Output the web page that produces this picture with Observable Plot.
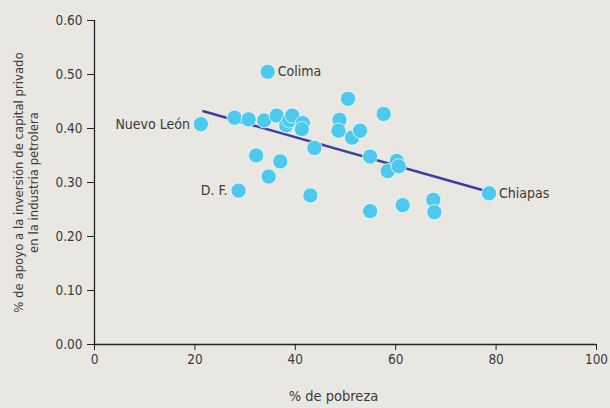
<!DOCTYPE html>
<html>
<head>
<meta charset="utf-8">
<script src="https://cdn.jsdelivr.net/npm/d3@7"></script>
<script src="https://cdn.jsdelivr.net/npm/@observablehq/plot@0.6"></script>
<style>
  html, body { margin: 0; padding: 0; background: #e8e7e1; }
  #chart { width: 610px; height: 408px; }
  svg, svg text { font-family: "DejaVu Sans", sans-serif; font-stretch: condensed; }
</style>
</head>
<body>
<div id="chart"></div>
<script>
// % de pobreza
const pobreza = [21.2, 27.9, 30.7, 33.8, 36.3, 38.2, 38.8, 39.4, 41.5, 41.3, 43.8, 32.2, 37.0, 34.7, 28.7, 43.0,
                 34.5, 50.5, 48.8, 48.6, 51.3, 52.9, 57.6, 54.9, 60.2, 58.4, 60.6, 54.9, 61.4, 67.5, 67.7, 78.6];
// % de apoyo a la inversión de capital privado
const apoyo = [0.408, 0.420, 0.417, 0.415, 0.424, 0.406, 0.415, 0.424, 0.410, 0.399, 0.364, 0.350, 0.339, 0.311, 0.285, 0.276,
               0.505, 0.455, 0.416, 0.396, 0.383, 0.396, 0.427, 0.348, 0.340, 0.321, 0.330, 0.247, 0.258, 0.268, 0.245, 0.280];
const estados = ["Nuevo León", "", "", "", "", "", "", "", "", "", "", "", "", "", "D. F.", "",
                 "Colima", "", "", "", "", "", "", "", "", "", "", "", "", "", "", "Chiapas"];
// regression line endpoints
const trendX = [21.7, 77.6];
const trendY = [0.432, 0.285];
const xTicks = [0, 20, 40, 60, 80, 100];
const yTicks = [0, 0.1, 0.2, 0.3, 0.4, 0.5, 0.6];
const leftLabels = ["Nuevo León", "D. F."];

const points = pobreza.map((x, i) => ({x, y: apoyo[i], name: estados[i]}));
const trend = trendX.map((x, i) => ({x, y: trendY[i]}));
const ink = "#3a3a3a";

const chart = Plot.plot({
  width: 610,
  height: 408,
  marginLeft: 94,
  marginRight: 14,
  marginTop: 20,
  marginBottom: 64,
  style: {background: "#e8e7e1", fontSize: "13px", color: ink, fontFamily: "DejaVu Sans, sans-serif"},
  x: {domain: [0, 100]},
  y: {domain: [0, 0.6]},
  marks: [
    Plot.axisX({ticks: xTicks, tickSize: 6, tickPadding: 4, label: null, stroke: "#222", fill: ink, fontSize: 13.5}),
    Plot.axisY({ticks: yTicks, tickSize: 7, tickPadding: 5, tickFormat: d3.format(".2f"), label: null, stroke: "#222", fill: ink, fontSize: 13.5}),
    Plot.ruleY([0], {stroke: "#222", strokeWidth: 1.3}),
    Plot.ruleX([0], {stroke: "#222", strokeWidth: 1.3}),
    Plot.line(trend, {x: "x", y: "y", stroke: "#3d3f9e", strokeWidth: 2.6}),
    Plot.dot(points, {x: "x", y: "y", r: 7.6, fill: "#4dc9ee", stroke: "#ffffff", strokeWidth: 0.7}),
    Plot.text(points.filter(d => leftLabels.includes(d.name)), {x: "x", y: "y", text: "name", textAnchor: "end", dx: -11, fill: ink, fontSize: 14}),
    Plot.text(points.filter(d => d.name && !leftLabels.includes(d.name)), {x: "x", y: "y", text: "name", textAnchor: "start", dx: 10, fill: ink, fontSize: 14}),
    Plot.text(["% de pobreza"], {frameAnchor: "bottom", dx: -12, dy: 56, fill: ink, fontSize: 14.5, fontWeight: 500}),
    Plot.text(["% de apoyo a la inversión de capital privado\nen la industria petrolera"],
      {frameAnchor: "left", textAnchor: "middle", rotate: -90, dx: -69, fill: ink, fontSize: 13, lineHeight: 1.2})
  ]
});
document.getElementById("chart").appendChild(chart);
</script>
</body>
</html>
